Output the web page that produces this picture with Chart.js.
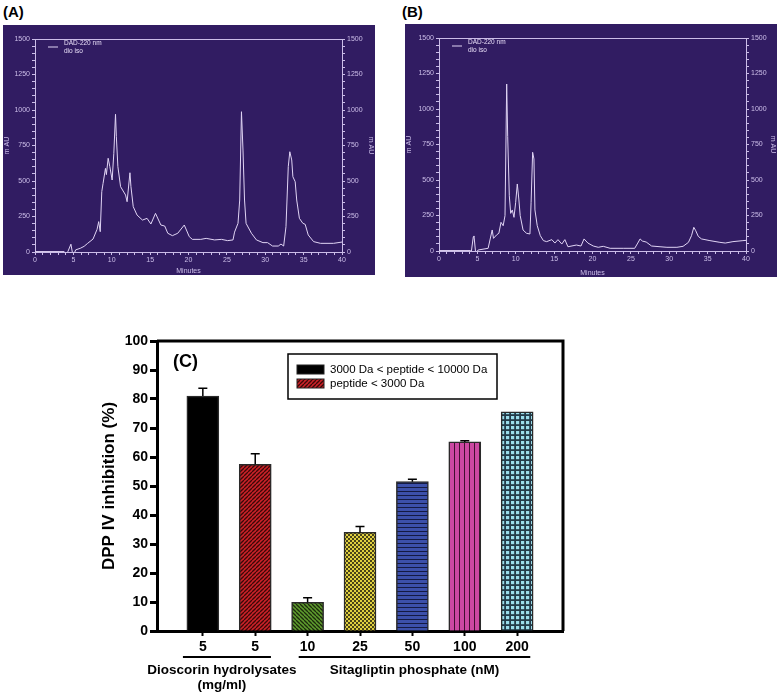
<!DOCTYPE html>
<html>
<head>
<meta charset="utf-8">
<script src="https://cdn.jsdelivr.net/npm/chart.js@4.4.1/dist/chart.umd.min.js"></script>
<style>
  body { margin: 0; background: #fff; width: 778px; height: 693px; position: relative; overflow: hidden; font-family: "Liberation Sans", Arial, sans-serif; }
  canvas { position: absolute; }
  .panel-label { position: absolute; font-weight: bold; font-size: 15px; }
  #chromA, #chromB { background: #311c62; }
</style>
</head>
<body>
<div class="panel-label" style="left:3px; top:3px;">(A)</div>
<div class="panel-label" style="left:402px; top:3px;">(B)</div>
<canvas id="chromA" width="372" height="250" style="left:3px; top:25px;"></canvas>
<canvas id="chromB" width="372" height="253" style="left:405px; top:24px;"></canvas>
<canvas id="barC" width="600" height="393" style="left:0; top:300px;"></canvas>
<script>
// Chromatogram A (dioscorin hydrolysate, 3000-10000 Da) - minutes / mAU
const timeA = [0, 3.8, 4.0, 4.3, 4.68, 4.96, 5.3, 5.9, 6.4, 6.86, 7.56, 8.09, 8.3, 8.5, 8.7, 8.87, 9.18, 9.3, 9.53, 9.75, 10.05, 10.27, 10.49, 10.6, 10.8, 11.15, 11.8, 12.0, 12.37, 12.5, 12.8, 13.3, 14.0, 14.6, 15.1, 15.7, 16.4, 16.9, 17.3, 17.9, 18.6, 19.45, 20.1, 20.5, 21.6, 22.3, 23.4, 24.3, 25.1, 25.8, 26.0, 26.45, 26.67, 26.9, 27.1, 27.3, 27.5, 28.2, 28.85, 29.7, 30.3, 30.95, 31.7, 32.05, 32.4, 32.7, 33.0, 33.2, 33.45, 33.6, 33.9, 34.1, 34.45, 34.9, 35.2, 35.6, 36.3, 37.2, 38.9, 40];
const mauA = [3, 3, -20, 5, 55, -30, 15, 26, 40, 61, 91, 160, 214, 143, 425, 483, 589, 545, 660, 601, 507, 695, 970, 812, 601, 460, 401, 354, 558, 460, 319, 260, 225, 237, 197, 272, 190, 183, 132, 115, 132, 190, 108, 89, 89, 96, 85, 89, 80, 85, 140, 202, 366, 988, 718, 366, 202, 132, 85, 66, 66, 42, 42, 56, 42, 178, 601, 706, 648, 530, 495, 366, 237, 202, 195, 120, 73, 61, 61, 70];

// Chromatogram B (dioscorin hydrolysate, < 3000 Da)
const timeB = [0, 4.1, 4.2, 4.47, 4.56, 4.78, 5.1, 6.4, 6.93, 7.1, 7.5, 7.8, 8.08, 8.36, 8.6, 8.82, 8.95, 9.16, 9.34, 9.55, 9.77, 9.99, 10.2, 10.4, 10.58, 10.95, 11.4, 11.85, 12.0, 12.2, 12.37, 12.5, 12.8, 13.2, 13.6, 14.03, 14.7, 15.1, 15.5, 16.0, 16.4, 16.8, 17.9, 18.5, 18.9, 19.4, 20.1, 20.75, 21.4, 22.3, 24.0, 25.5, 25.9, 26.2, 26.5, 27.0, 27.7, 28.8, 29.7, 31.0, 31.8, 32.5, 32.9, 33.2, 33.45, 33.78, 34.2, 35.3, 36.6, 37.3, 38.3, 39.6, 40];
const mauB = [3, 3, -10, 100, 106, -16, 7, 19, 148, 89, 113, 125, 202, 178, 249, 1176, 805, 389, 265, 289, 237, 343, 472, 366, 249, 148, 125, 120, 343, 695, 648, 289, 178, 108, 73, 66, 80, 56, 80, 49, 80, 30, 42, 35, 85, 56, 35, 26, 33, 19, 19, 19, 56, 85, 70, 63, 35, 30, 26, 26, 33, 61, 108, 167, 143, 103, 85, 73, 61, 56, 66, 73, 75];

const chromLegend = ['DAD-220 nm', 'dio iso'];

// Panel C: DPP IV inhibition
const cLabels = ['5', '5', '10', '25', '50', '100', '200'];
const inhibition = [81, 57.5, 9.9, 34, 51.5, 65.2, 75.6];
const inhibitionErr = [2.7, 3.6, 1.6, 2.0, 0.8, 0.4, 0];
const seriesNames = ['3000 Da < peptide < 10000 Da', 'peptide < 3000 Da'];
const groups = [
  { lines: ['Dioscorin hydrolysates', '(mg/ml)'], from: -0.38, to: 1.3 },
  { lines: ['Sitagliptin phosphate (nM)'], from: 1.83, to: 6.25 }
];

const lav = '#cbbde8';
const tinyFont = { family: 'Liberation Sans, Arial, sans-serif', size: 7 };

// small legend + top frame line for the chromatograms
const chromDecor = {
  id: 'chromDecor',
  afterDraw(chart) {
    const { ctx, chartArea: a } = chart;
    ctx.save();
    ctx.strokeStyle = lav;
    ctx.lineWidth = 1;
    ctx.beginPath();
    ctx.moveTo(a.left, a.top + 0.5);
    ctx.lineTo(a.right, a.top + 0.5);
    ctx.stroke();
    ctx.strokeStyle = '#e0d4f4';
    ctx.beginPath();
    ctx.moveTo(a.left + 13, a.top + 8);
    ctx.lineTo(a.left + 23, a.top + 8);
    ctx.stroke();
    ctx.fillStyle = '#e6dcf6';
    ctx.font = '6.5px "Liberation Sans", Arial, sans-serif';
    ctx.textBaseline = 'middle';
    ctx.fillText(chromLegend[0], a.left + 29, a.top + 4);
    ctx.fillText(chromLegend[1], a.left + 29, a.top + 12);
    ctx.restore();
  }
};

function yAxis(pos, w) {
  return {
    position: pos,
    min: 0, max: 1500,
    afterFit: s => { s.width = w; },
    ticks: {
      stepSize: 50, autoSkip: false, color: lav, font: tinyFont, padding: 2,
      callback: v => (v % 250 === 0 ? v : '')
    },
    grid: { drawOnChartArea: false, color: lav, tickLength: 3 },
    border: { color: lav },
    title: { display: true, text: 'm AU', color: lav, font: tinyFont, padding: 0 }
  };
}

function chromChart(id, times, values, leftW, rightW, xH) {
  new Chart(document.getElementById(id), {
    type: 'line',
    data: {
      datasets: [{
        data: times.map((t, i) => ({ x: t, y: values[i] })),
        borderColor: '#e0d4f4',
        borderWidth: 1,
        pointRadius: 0,
        tension: 0,
        yAxisID: 'y'
      }]
    },
    options: {
      responsive: false,
      animation: false,
      layout: { padding: { top: 14 } },
      plugins: { legend: { display: false }, tooltip: { enabled: false } },
      scales: {
        x: {
          type: 'linear', min: 0, max: 40,
          afterFit: s => { s.height = xH; },
          ticks: {
            stepSize: 1, autoSkip: false, maxRotation: 0, color: lav, font: tinyFont, padding: 1,
            callback: v => (v % 5 === 0 ? v : '')
          },
          grid: { drawOnChartArea: false, color: lav, tickLength: 3 },
          border: { color: lav },
          title: { display: true, text: 'Minutes', color: lav, font: tinyFont, padding: 0 }
        },
        y: yAxis('left', leftW),
        y2: yAxis('right', rightW)
      }
    },
    plugins: [chromDecor]
  });
}

chromChart('chromA', timeA, mauA, 32, 33, 23);
chromChart('chromB', timeB, mauB, 34, 31, 26);

// fill patterns for the bars
function makePattern(size, bg, draw) {
  const c = document.createElement('canvas');
  c.width = size; c.height = size;
  const g = c.getContext('2d');
  g.fillStyle = bg;
  g.fillRect(0, 0, size, size);
  draw(g, size);
  return g.createPattern(c, 'repeat');
}
function diag(color, up) {
  return (g, s) => {
    g.strokeStyle = color;
    g.lineWidth = 1.3;
    for (let k = -1; k <= 1; k++) {
      g.beginPath();
      if (up) { g.moveTo(k * s, s); g.lineTo(k * s + s, 0); }
      else { g.moveTo(k * s, 0); g.lineTo(k * s + s, s); }
      g.stroke();
    }
  };
}
const barFills = [
  '#000000',
  makePattern(4, '#cc2228', diag('#3a0808', true)),
  makePattern(4, '#5e9c2e', diag('#1c2a0c', false)),
  makePattern(4, '#4a4418', (g) => { g.fillStyle = '#e0d040'; g.fillRect(0, 0, 2, 2); g.fillRect(2, 2, 2, 2); }),
  makePattern(4, '#3c50aa', (g) => { g.fillStyle = '#141a44'; g.fillRect(0, 3, 4, 1.2); }),
  makePattern(5, '#cc48a2', (g) => { g.fillStyle = '#420e30'; g.fillRect(4, 0, 1.3, 5); }),
  makePattern(5, '#233a48', (g) => { g.fillStyle = '#9adcea'; g.fillRect(1, 1, 3.2, 3.2); })
];

const errorBars = {
  id: 'errorBars',
  afterDatasetsDraw(chart) {
    const { ctx, scales: { y } } = chart;
    const meta = chart.getDatasetMeta(0);
    ctx.save();
    ctx.strokeStyle = '#000';
    ctx.lineWidth = 1.5;
    meta.data.forEach((bar, i) => {
      if (!inhibitionErr[i]) return;
      const y0 = y.getPixelForValue(inhibition[i]);
      const y1 = y.getPixelForValue(inhibition[i] + inhibitionErr[i]);
      ctx.beginPath();
      ctx.moveTo(bar.x, y0);
      ctx.lineTo(bar.x, y1);
      ctx.moveTo(bar.x - 4.5, y1);
      ctx.lineTo(bar.x + 4.5, y1);
      ctx.stroke();
    });
    ctx.restore();
  }
};

const cDecor = {
  id: 'cDecor',
  afterDraw(chart) {
    const { ctx, chartArea: a, scales: { x } } = chart;
    ctx.save();
    // frame top + right
    ctx.strokeStyle = '#000';
    ctx.lineWidth = 3;
    ctx.beginPath();
    ctx.moveTo(a.left, a.top);
    ctx.lineTo(a.right, a.top);
    ctx.lineTo(a.right, a.bottom);
    ctx.stroke();
    // panel tag
    ctx.fillStyle = '#000';
    ctx.font = 'bold 18px "Liberation Sans", Arial, sans-serif';
    ctx.textBaseline = 'middle';
    ctx.fillText('(C)', a.left + 16, a.top + 21);
    // legend
    const lx = a.left + 131, ly = a.top + 13;
    ctx.lineWidth = 1.5;
    ctx.strokeRect(lx, ly, 209, 45);
    ctx.font = '11.5px "Liberation Sans", Arial, sans-serif';
    seriesNames.forEach((name, i) => {
      const sy = ly + 11 + i * 14;
      ctx.fillStyle = barFills[i];
      ctx.fillRect(lx + 9, sy, 27, 9);
      ctx.lineWidth = 1;
      ctx.strokeStyle = '#222';
      ctx.strokeRect(lx + 9, sy, 27, 9);
      ctx.fillStyle = '#000';
      ctx.fillText(name, lx + 42, sy + 5);
    });
    // group lines and labels
    ctx.strokeStyle = '#000';
    ctx.lineWidth = 2;
    ctx.font = 'bold 13.5px "Liberation Sans", Arial, sans-serif';
    ctx.textAlign = 'center';
    groups.forEach((gr, gi) => {
      const x0 = x.getPixelForValue(gr.from), x1 = x.getPixelForValue(gr.to);
      ctx.beginPath();
      ctx.moveTo(x0, a.bottom + 26);
      ctx.lineTo(x1, a.bottom + 26);
      ctx.stroke();
      const cx = gi === 0 ? x0 + 39 : (x0 + x1) / 2;
      gr.lines.forEach((t, li) => ctx.fillText(t, cx, a.bottom + 39 + li * 15));
    });
    ctx.restore();
  }
};

const boldFont = { family: 'Liberation Sans, Arial, sans-serif', size: 14, weight: 'bold' };

new Chart(document.getElementById('barC'), {
  type: 'bar',
  data: {
    datasets: [{
      data: inhibition.map((v, i) => ({ x: i, y: v })),
      backgroundColor: barFills,
      borderColor: '#2a2a2a',
      borderWidth: 1.5,
      barThickness: 32
    }]
  },
  options: {
    responsive: false,
    animation: false,
    layout: { padding: { top: 41, right: 37 } },
    plugins: { legend: { display: false }, tooltip: { enabled: false } },
    scales: {
      x: {
        type: 'linear', min: -0.875, max: 6.875, offset: false,
        afterFit: s => { s.height = 62; },
        afterBuildTicks: s => { s.ticks = cLabels.map((_, i) => ({ value: i })); },
        ticks: { color: '#000', font: boldFont, padding: 3, maxRotation: 0, autoSkip: false, callback: v => cLabels[v] },
        grid: { drawOnChartArea: false, offset: false, color: '#000', tickLength: 5, tickWidth: 2 },
        border: { color: '#000', width: 3 }
      },
      y: {
        min: 0, max: 100,
        afterFit: s => { s.width = 157; },
        ticks: { stepSize: 10, color: '#000', font: boldFont, padding: 2 },
        grid: { drawOnChartArea: false, color: '#000', tickLength: 7, tickWidth: 3 },
        border: { color: '#000', width: 3 },
        title: {
          display: true, text: 'DPP IV inhibition (%)', color: '#000',
          font: { family: 'Liberation Sans, Arial, sans-serif', size: 17, weight: 'bold' },
          padding: { top: 99, bottom: 0 }
        }
      }
    }
  },
  plugins: [errorBars, cDecor]
});
</script>
</body>
</html>
